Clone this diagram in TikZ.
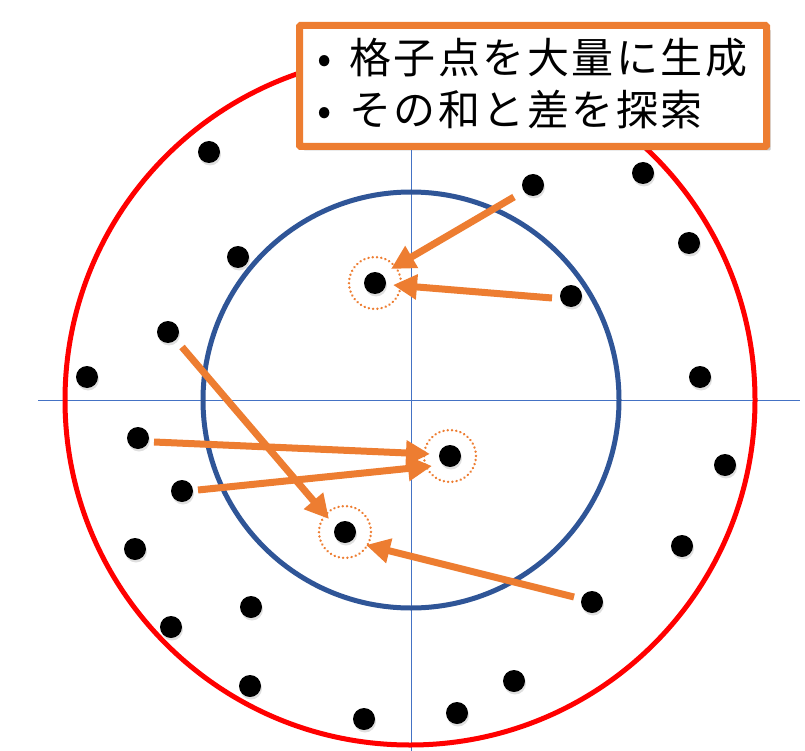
\documentclass[tikz,border=0pt]{standalone}
\usepackage{fontspec}
\newfontfamily\jpfont[LetterSpace=6]{Noto Sans CJK JP}
\usetikzlibrary{shadows,arrows.meta}
\definecolor{cred}{HTML}{FF0000}
\definecolor{cblue}{HTML}{2F5597}
\definecolor{caxis}{HTML}{4472C4}
\definecolor{corange}{HTML}{ED7D31}
\tikzset{
  dot/.style={circle,fill=black,minimum size=22pt,inner sep=0pt,
    drop shadow={opacity=0.25,shadow xshift=1pt,shadow yshift=-2.5pt}},
  ring/.style={circle,draw=corange,line width=2.6pt,dash pattern=on 0.1pt off 4.2pt,line cap=round,minimum size=52pt,inner sep=0pt},
  arr/.style={draw=corange,line width=7pt,-{Triangle[length=24pt,width=24pt]}},
  axis/.style={draw=caxis,line width=1pt},
  box/.style={draw=corange,line width=7pt,fill=white,minimum width=467pt,minimum height=121pt,
    inner sep=0pt,rounded corners=1pt,
    drop shadow={opacity=0.45,shadow xshift=4pt,shadow yshift=-4pt}}
}
\begin{document}
\begin{tikzpicture}[x=1pt,y=-1pt]
\useasboundingbox (0,0) rectangle (805,751);
% axes
\coordinate (hL) at (38,400); \coordinate (hR) at (800,400);
\coordinate (vT) at (411,150); \coordinate (vB) at (411,751);
\draw[axis] (hL) -- (hR);
\draw[axis] (vT) -- (vB);
% circles
\draw[cred,line width=5pt] (410,400) circle (345pt);
\draw[cblue,line width=5pt] (411,400) circle (208pt);
% dots
\foreach \n/\x/\y in {1/209/152,2/238/257,3/168/332,4/87/377,5/138/438,6/182/491,7/135/549,8/251/607,9/171/627,10/250/686,11/364/719,12/457/713,13/514/681,14/592/602,15/682/546,16/725/465,17/700/377,18/689/243,19/643/173,20/533/185,21/571/296,22/375/283,23/450/456,24/345/532}
  \node[dot] (d\n) at (\x,\y) {};
% dotted rings
\node[ring] (r1) at (d22) {};
\node[ring] (r2) at (d23) {};
\node[ring] (r3) at (d24) {};
% arrows
\coordinate (a1s) at (514,197); \coordinate (a1e) at (391,269);
\coordinate (a2s) at (552,298); \coordinate (a2e) at (393,285);
\coordinate (a3s) at (182,347); \coordinate (a3e) at (329,519);
\coordinate (a4s) at (154,442); \coordinate (a4e) at (430,454);
\coordinate (a5s) at (198,490); \coordinate (a5e) at (432,466);
\coordinate (a6s) at (574,597); \coordinate (a6e) at (366,545);
\foreach \i in {1,...,6} \draw[arr] (a\i s) -- (a\i e);
% text box
\node[box] (tb) at (533,86) {};
\node[anchor=west,align=left,font=\jpfont\fontsize{42}{52}\selectfont,inner sep=0pt] (tx) at (317,84)
  {\makebox[32pt][l]{•}格子点を大量に生成\\\makebox[32pt][l]{•}その和と差を探索};
\end{tikzpicture}
\end{document}
